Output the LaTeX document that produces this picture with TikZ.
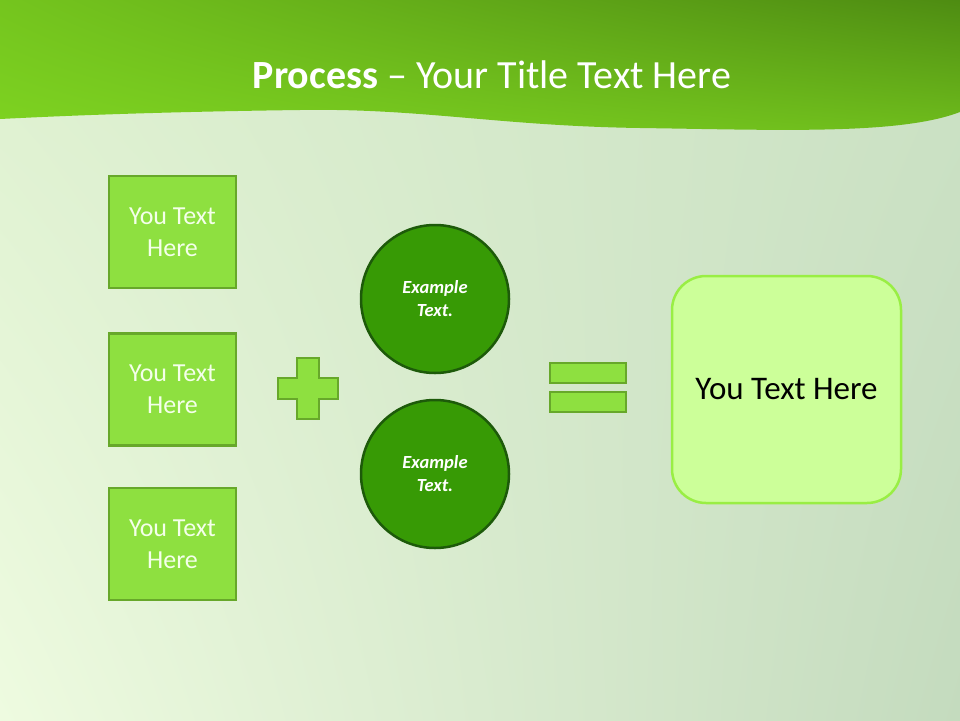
\documentclass[tikz,border=0pt]{standalone}
\usepackage{fontspec}
\setmainfont{Carlito}
\usetikzlibrary{shapes.geometric,shadings}
\definecolor{bgUL}{HTML}{DDF0CF}
\definecolor{bgUR}{HTML}{CCE2C5}
\definecolor{bgLL}{HTML}{EEFBE0}
\definecolor{bgLR}{HTML}{C4DBBE}
\definecolor{topA}{HTML}{7ED321}
\definecolor{topB}{HTML}{4E8C12}
\definecolor{boxfill}{HTML}{8EE040}
\definecolor{boxdraw}{HTML}{67A82A}
\definecolor{circfill}{HTML}{379A05}
\definecolor{circdraw}{HTML}{1D5A0A}
\definecolor{resfill}{HTML}{CCFF99}
\definecolor{resdraw}{HTML}{99EE44}
\definecolor{boxtext}{HTML}{F4FFEA}
\tikzset{
  x=1pt,y=-1pt,
  inbox/.style={draw=boxdraw,fill=boxfill,line width=2.5pt,minimum width=127pt,minimum height=112pt,
    text=boxtext,font=\fontsize{26}{32}\selectfont,align=center,inner sep=0pt},
  opshape/.style={draw=boxdraw,fill=boxfill,line width=2pt},
  circ/.style={circle,draw=circdraw,fill=circfill,line width=2.5pt,minimum size=148pt,inner sep=0pt,
    text=white,font=\fontsize{18.5}{23}\selectfont\bfseries\itshape,align=center},
  result/.style={draw=resdraw,fill=resfill,line width=2.5pt,rounded corners=34pt,minimum width=229pt,
    minimum height=227pt,font=\fontsize{33}{38}\selectfont,text=black}
}
\begin{document}
\begin{tikzpicture}
\useasboundingbox (0,0) rectangle (960,720);
% background
\shade[upper left=bgUL,upper right=bgUR,lower left=bgLL,lower right=bgLR] (0,0) rectangle (960,720);
% top band
\shade[upper left=topA!80!topB,upper right=topB,lower left=topA,lower right=topA!70!topB]
  (0,0) -- (960,0) -- (960,112) .. controls (900,135) and (780,130) .. (640,128)
  .. controls (500,126) and (420,108) .. (300,110) .. controls (150,112) and (60,116) .. (0,119) -- cycle;
\node[font=\fontsize{40}{44}\selectfont,text=white,anchor=base] (title) at (492,88)
  {\textbf{Process} -- Your Title Text Here};
% left boxes
\node[inbox] (b1) at (172.5,232) {You Text\\Here};
\node[inbox] (b2) at (172.5,389.5) {You Text\\Here};
\node[inbox] (b3) at (172.5,544) {You Text\\Here};
% plus
\draw[opshape] (297,358) -- (319,358) -- (319,378) -- (338,378) -- (338,399) -- (319,399) -- (319,419)
  -- (297,419) -- (297,399) -- (278,399) -- (278,378) -- (297,378) -- cycle;
% circles
\node[circ] (c1) at (435,299) {Example\\Text.};
\node[circ] (c2) at (435,474) {Example\\Text.};
% equals
\draw[opshape] (550,363) rectangle (626,383);
\draw[opshape] (550,392) rectangle (626,412);
% result
\node[result] (r) at (786.5,389.5) {You Text Here};
\end{tikzpicture}
\end{document}
